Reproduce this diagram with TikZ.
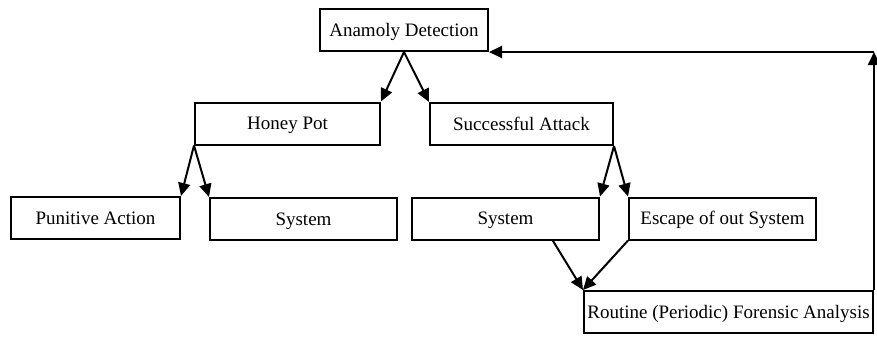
\documentclass[tikz,border=0pt]{standalone}
\usepackage{fontspec}
\setmainfont{Liberation Serif}
\usetikzlibrary{arrows.meta,calc}

\tikzset{
	flowbox/.style={draw, line width=2pt, inner sep=1pt, minimum height=42pt, text height=12.5pt, text depth=0pt, font=\fontsize{19}{22}\selectfont},
	flowline/.style={line width=2pt, ->, >={Triangle[length=13pt,width=12pt]}}
}

\begin{document}
\begin{tikzpicture}[x=1pt, y=-1pt]

	\useasboundingbox (0,0) rectangle (877,337);

	\node [flowbox, minimum width=168pt] (anomaly) at (404, 30) {Anamoly Detection};

	\node [flowbox, minimum width=185pt] (honey) at (287.5, 123.5) {Honey Pot};
	\node [flowbox, minimum width=183pt] (attack) at (521.5, 124) {Successful Attack};

	\node [flowbox, minimum width=169pt] (punitive) at (95.5, 218) {Punitive Action};
	\node [flowbox, minimum width=187pt] (sysA) at (303.5, 219) {System};
	\node [flowbox, minimum width=187pt] (sysB) at (505.5, 218.5) {System};
	\node [flowbox, minimum width=187pt] (escape) at (722.5, 218.5) {Escape of out System};

	\node [flowbox, minimum width=289pt] (routine) at (728.5, 312) {Routine (Periodic) Forensic Analysis};

	% top level
	\draw [flowline] (anomaly.south) -- (honey.north east);
	\draw [flowline] (anomaly.south) -- (attack.north west);

	% honey pot branch
	\draw [flowline] (honey.south west) -- (punitive.north east);
	\draw [flowline] (honey.south west) -- (sysA.north west);

	% attack branch
	\draw [flowline] (attack.south east) -- (sysB.north east);
	\draw [flowline] (attack.south east) -- (escape.north west);

	\draw [flowline] ($(sysB.south)!0.5!(sysB.south east)$) -- (routine.north west);
	\draw [flowline] (escape.south west) -- (routine.north west);

	% feedback loop
	\coordinate (loop) at (routine.north east |- anomaly.south east);
	\draw [flowline] (routine.north east) -- (loop);
	\draw [flowline] (loop) -- (anomaly.south east);
\end{tikzpicture}
\end{document}
